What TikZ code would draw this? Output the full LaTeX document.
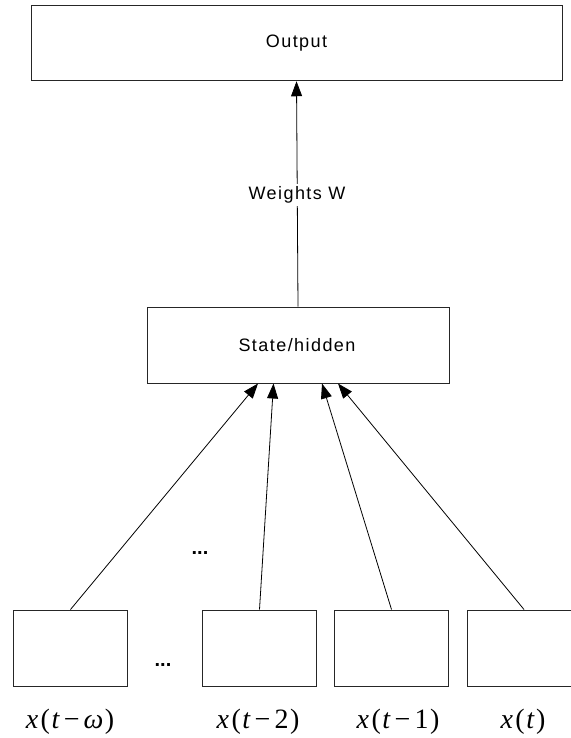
\documentclass[tikz,border=0pt]{standalone}
\usepackage{fontspec}
\setmainfont{Liberation Serif}
\newfontfamily\labfont[LetterSpace=8]{Liberation Sans}
\newfontfamily\dotfont{Liberation Sans}
\usetikzlibrary{arrows.meta,calc}
\newcommand{\vx}{\textit{x}\kern2.5pt(\kern1.5pt\textit{t}}
\begin{document}
\begin{tikzpicture}[x=1pt,y=-1pt,
  box/.style={draw=black!85,line width=1pt,fill=white,inner sep=0pt,minimum height=76pt},
  inbox/.style={box,minimum width=114pt},
  conn/.style={line width=0.8pt,-{Triangle[length=15pt,width=11pt]}},
  txt/.style={font=\labfont\fontsize{18}{21}\selectfont},
  var/.style={font=\fontsize{28}{32}\selectfont,inner sep=0pt},
  dots/.style={font=\dotfont\bfseries\fontsize{20}{22}\selectfont,inner sep=0pt}]
\useasboundingbox (0,0) rectangle (570,738);
\node[box,minimum width=531pt,minimum height=75.5pt] (out) at (296.5,43) {};
\node[txt] (outt) at (296.5,43) {Output};
\node[box,minimum width=302pt] (st) at (298,345) {};
\node[txt] (stt) at (297,345) {State/hidden};
\node[inbox] (b1) at (70.5,648) {};
\node[inbox] (b2) at (259.5,648) {};
\node[inbox] (b3) at (391.5,648) {};
\node[inbox] (b4) at (524,648) {};
\draw[conn] (st.north) -- (out.south);
\node[txt,fill=white,inner sep=3pt] (w) at (297,195) {Weights W};
\draw[conn] (b1.north) -- ($(st.south)+(-40,0)$);
\draw[conn] (b2.north) -- ($(st.south)+(-24.5,0)$);
\draw[conn] (b3.north) -- ($(st.south)+(24,0)$);
\draw[conn] (b4.north) -- ($(st.south)+(40,0)$);
\node[dots] (d1) at (200,553) {...};
\node[dots] (d2) at (163,665) {...};
\node[var] (l1) at (70,722) {\vx\kern4pt−\kern4pt\textit{ω}\kern1.5pt)};
\node[var] (l2) at (258,722) {\vx\kern4pt−\kern4pt2\kern1.5pt)};
\node[var] (l3) at (398,722) {\vx\kern4pt−\kern4pt1\kern1.5pt)};
\node[var] (l4) at (523,722) {\vx\kern1.5pt)};
\end{tikzpicture}
\end{document}
